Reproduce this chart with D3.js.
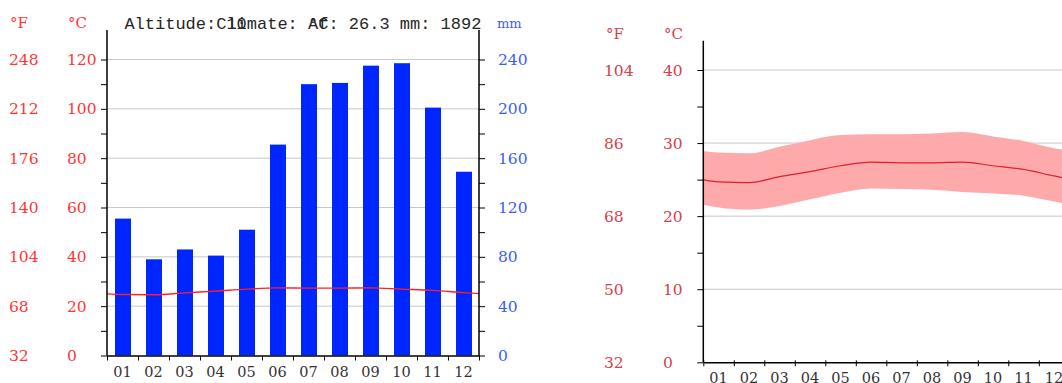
<!DOCTYPE html>
<html>
<head>
<meta charset="utf-8">
<script src="https://cdn.jsdelivr.net/npm/d3@7"></script>
<style>
  body { margin: 0; background: #fff; }
  svg { display: block; }
</style>
</head>
<body>
<svg id="chart" width="1062" height="383"></svg>
<script>
// climate data
const months = ["01","02","03","04","05","06","07","08","09","10","11","12"]
const precipMm = [111, 78, 86, 81, 102, 171, 220, 221, 235, 237, 201, 149]
const tempMean = [24.7, 24.6, 25.4, 26.1, 26.9, 27.4, 27.3, 27.3, 27.4, 26.9, 26.4, 25.5]
const tempMax = [28.7, 28.6, 29.5, 30.4, 31.1, 31.2, 31.2, 31.3, 31.5, 30.9, 30.3, 29.3]
const tempMin = [21.2, 20.9, 21.4, 22.3, 23.2, 23.8, 23.7, 23.6, 23.3, 23.1, 22.8, 22.0]

// tick labels
const leftC = ["0","20","40","60","80","100","120"]
const leftF = ["32","68","104","140","176","212","248"]
const mmTicks = ["0","40","80","120","160","200","240"]
const rightC = ["0","10","20","30","40"]
const rightF = ["32","50","68","86","104"]

const titleParts = ["Altitude: 10", "Climate: Af", "°C: 26.3 mm: 1892"]

const svg = d3.select("#chart")
const serif = "'DejaVu Serif', serif"
const red = "#ff3636"
const blue = "#3c5cff"
const tickFont = "15.5px"

// wrap the year round so the curves reach both axes
function wrapped(arr){
    const pts = arr.map((v, i) => [i + 0.5, v])
    return [[-0.5, arr[11]]].concat(pts, [[12.5, arr[0]]])
}

// ---------- left chart: precipitation + mean temperature ----------
const L = {x0: 107, x1: 479, y0: 355.5, yTop: 30}
const xBand = d3.scaleBand().domain(months).range([L.x0, L.x1])
const xIdx = d3.scaleLinear().domain([0, 12]).range([L.x0, L.x1])
const yT = d3.scaleLinear().domain([0, 120]).range([L.y0, 59.5])
const yP = d3.scaleLinear().domain([0, 240]).range([L.y0, 59.5])

const gl = svg.append("g")

gl.selectAll(".grid")
    .data(d3.range(20, 121, 20))
    .enter()
    .append("line")
    .attr("x1", L.x0).attr("x2", L.x1)
    .attr("y1", d => yT(d)).attr("y2", d => yT(d))
    .attr("stroke", "#c8c8c8")

gl.selectAll(".bar")
    .data(precipMm)
    .enter()
    .append("rect")
    .attr("fill", "#0026ff")
    .attr("x", (d, i) => xBand(months[i]) + (xBand.bandwidth() - 16) / 2 + 0.5)
    .attr("width", 16)
    .attr("y", d => yP(d))
    .attr("height", d => yP(0) - yP(d))

svg.append("clipPath").attr("id", "clipL")
    .append("rect").attr("x", L.x0).attr("y", 0).attr("width", L.x1 - L.x0).attr("height", 383)

gl.append("path")
    .datum(wrapped(tempMean))
    .attr("clip-path", "url(#clipL)")
    .attr("fill", "none")
    .attr("stroke", "#ff2020")
    .attr("stroke-width", 1.4)
    .attr("d", d3.line().x(d => xIdx(d[0])).y(d => yT(d[1])).curve(d3.curveMonotoneX))

// axes
const axL = gl.append("g")
    .attr("transform", "translate(" + L.x0 + ",0)")
    .call(d3.axisLeft(yT).tickValues(d3.range(0, 121, 10)).tickSize(6).tickFormat(""))
axL.select(".domain").remove()
axL.append("line").attr("y1", L.yTop).attr("y2", L.y0).attr("stroke", "#000").attr("stroke-width", 1.5)

const axR = gl.append("g")
    .attr("transform", "translate(" + L.x1 + ",0)")
    .call(d3.axisRight(yP).tickValues(d3.range(0, 241, 20)).tickSize(6).tickFormat(""))
axR.select(".domain").remove()
axR.append("line").attr("y1", L.yTop).attr("y2", L.y0).attr("stroke", "#000").attr("stroke-width", 1.5)

const axB = gl.append("g")
    .attr("transform", "translate(0," + L.y0 + ")")
    .call(d3.axisBottom(xIdx).tickValues(d3.range(0, 13)).tickSize(5).tickFormat("").tickSizeOuter(0))
axB.select(".domain").attr("stroke-width", 1.5)

gl.selectAll(".xl").data(months).enter().append("text")
    .text(d => d).attr("x", d => xBand(d) + xBand.bandwidth() / 2).attr("y", 377)
    .attr("text-anchor", "middle")
    .attr("font-family", serif).attr("font-size", "14.5px").attr("fill", "#333")

gl.selectAll(".lc").data(leftC).enter().append("text")
    .text(d => d).attr("x", 67).attr("y", d => yT(+d) + 5.5)
    .attr("font-family", serif).attr("font-size", tickFont).attr("fill", red)
gl.selectAll(".lf").data(leftF).enter().append("text")
    .text(d => d).attr("x", 9).attr("y", (d, i) => yT(+leftC[i]) + 5.5)
    .attr("font-family", serif).attr("font-size", tickFont).attr("fill", red)
gl.selectAll(".mm").data(mmTicks).enter().append("text")
    .text(d => d).attr("x", 498).attr("y", d => yP(+d) + 5.5)
    .attr("font-family", serif).attr("font-size", tickFont).attr("fill", blue)

gl.append("text").text("°F").attr("x", 10).attr("y", 28)
    .attr("font-family", serif).attr("font-size", "15px").attr("fill", red)
gl.append("text").text("°C").attr("x", 68).attr("y", 28)
    .attr("font-family", serif).attr("font-size", "15px").attr("fill", red)
gl.append("text").text("mm").attr("x", 497).attr("y", 28)
    .attr("font-family", serif).attr("font-size", "13px").attr("fill", blue)

// the three header texts overlap, as in the original
const charW = 10.2
titleParts.forEach((t, i) => {
    gl.append("text").text(t)
        .attr("x", 124.4 + i * 9 * charW).attr("y", 28.5)
        .attr("font-family", "'Liberation Mono', monospace")
        .attr("font-size", "17px").attr("fill", "#262626")
})

// ---------- right chart: temperature range ----------
const R = {x0: 703.3, bw: 30.5, y0: 362.3, yTop: 40.7}
const xr = d3.scaleLinear().domain([0, 12]).range([R.x0, R.x0 + 12 * R.bw])
const yr = d3.scaleLinear().domain([0, 40]).range([R.y0, 70])
const rRed = "#d8404c"

const gr = svg.append("g")

gr.selectAll(".grid")
    .data(d3.range(10, 41, 10))
    .enter()
    .append("line")
    .attr("x1", R.x0).attr("x2", xr(12))
    .attr("y1", d => yr(d)).attr("y2", d => yr(d))
    .attr("stroke", "#c8c8c8")

svg.append("clipPath").attr("id", "clipR")
    .append("rect").attr("x", R.x0).attr("y", 0).attr("width", 12 * R.bw).attr("height", 383)

const band = wrapped(tempMax).map((d, i) => [d[0], d[1], wrapped(tempMin)[i][1]])
gr.append("path")
    .datum(band)
    .attr("clip-path", "url(#clipR)")
    .attr("fill", "#ffaaaa")
    .attr("d", d3.area().x(d => xr(d[0])).y0(d => yr(d[2])).y1(d => yr(d[1])).curve(d3.curveMonotoneX))

gr.append("path")
    .datum(wrapped(tempMean))
    .attr("clip-path", "url(#clipR)")
    .attr("fill", "none")
    .attr("stroke", "#e0202c")
    .attr("stroke-width", 1.2)
    .attr("d", d3.line().x(d => xr(d[0])).y(d => yr(d[1])).curve(d3.curveMonotoneX))

const axRL = gr.append("g")
    .attr("transform", "translate(" + R.x0 + ",0)")
    .call(d3.axisLeft(yr).tickValues(d3.range(0, 41, 5)).tickSize(6).tickFormat(""))
axRL.select(".domain").remove()
axRL.append("line").attr("y1", R.yTop).attr("y2", R.y0).attr("stroke", "#000").attr("stroke-width", 1.5)

const axRB = gr.append("g")
    .attr("transform", "translate(0," + R.y0 + ")")
    .call(d3.axisBottom(xr).tickValues(d3.range(0, 13)).tickSize(4).tickFormat("").tickSizeOuter(0))
axRB.select(".domain").attr("stroke-width", 1.5)
axRB.selectAll(".tick line").attr("y1", -2)

gr.selectAll(".xl").data(months).enter().append("text")
    .text(d => d).attr("x", (d, i) => xr(i + 0.5)).attr("y", 382.5)
    .attr("text-anchor", "middle")
    .attr("font-family", serif).attr("font-size", "14.5px").attr("fill", "#333")

gr.selectAll(".rc").data(rightC).enter().append("text")
    .text(d => d).attr("x", 663).attr("y", d => yr(+d) + 5.5)
    .attr("font-family", serif).attr("font-size", tickFont).attr("fill", rRed)
gr.selectAll(".rf").data(rightF).enter().append("text")
    .text(d => d).attr("x", 604).attr("y", (d, i) => yr(+rightC[i]) + 5.5)
    .attr("font-family", serif).attr("font-size", tickFont).attr("fill", rRed)

gr.append("text").text("°F").attr("x", 606).attr("y", 39)
    .attr("font-family", serif).attr("font-size", "15px").attr("fill", rRed)
gr.append("text").text("°C").attr("x", 664).attr("y", 39)
    .attr("font-family", serif).attr("font-size", "15px").attr("fill", rRed)
</script>
</body>
</html>
